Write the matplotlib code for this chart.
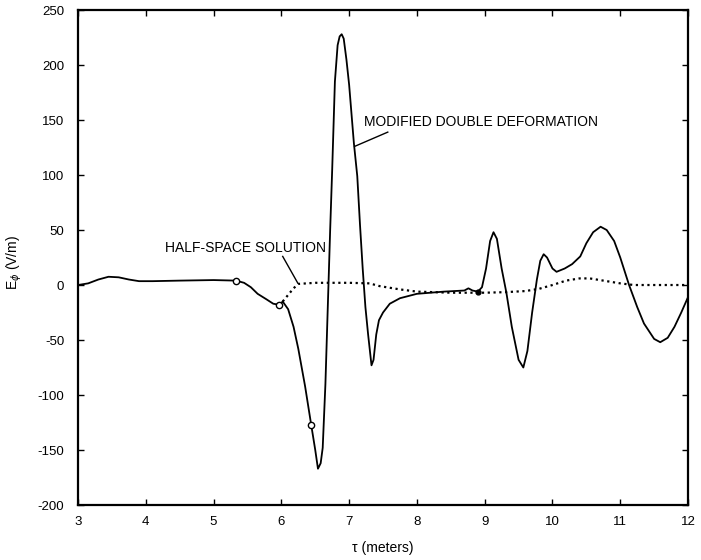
import matplotlib
matplotlib.use("Agg")
import matplotlib.pyplot as plt
import matplotlib.ticker as ticker

plt.rcParams['font.family'] = ['Liberation Sans', 'DejaVu Sans']
plt.rcParams['axes.unicode_minus'] = False

# modified double deformation result (tau in meters, E_phi in V/m)
tau_mdd = [3.0, 3.15, 3.3, 3.45, 3.6, 3.75, 3.9, 4.1, 4.5, 5.0, 5.33, 5.45, 5.55,
           5.65, 5.78, 5.88, 5.97, 6.02, 6.1, 6.18, 6.25, 6.35, 6.44, 6.5, 6.54,
           6.58, 6.61, 6.65, 6.69, 6.72, 6.75, 6.79, 6.83, 6.86, 6.89, 6.92, 6.96,
           7.0, 7.07, 7.12, 7.16, 7.2, 7.24, 7.28, 7.33, 7.36, 7.4, 7.44, 7.5,
           7.6, 7.75, 8.0, 8.4, 8.7, 8.76, 8.82, 8.9, 8.96, 9.02, 9.08, 9.13,
           9.18, 9.25, 9.32, 9.4, 9.5, 9.57, 9.63, 9.7, 9.77, 9.82, 9.87, 9.92,
           10.0, 10.06, 10.18, 10.29, 10.41, 10.5, 10.6, 10.71, 10.8, 10.91, 11.0,
           11.13, 11.25, 11.35, 11.5, 11.59, 11.7, 11.8, 11.9, 12.0]
e_mdd = [0, 1.5, 5, 7.5, 7, 5, 3.5, 3.5, 4, 4.5, 4, 2, -2,
         -8, -13, -17, -18, -15, -22, -38, -58, -92, -127, -150, -167,
         -162, -148, -90, -10, 50, 105, 185, 218, 226, 228, 224, 205,
         182, 129, 99, 55, 15, -20, -45, -73, -68, -45, -32, -25,
         -17, -12, -8, -6, -5, -3, -5, -6, -2, 15, 40, 48,
         42, 15, -7, -38, -68, -75, -60, -25, 5, 22, 28, 25,
         15, 12, 15, 19, 26, 38, 48, 53, 50, 40, 25,
         0, -20, -35, -49, -52, -48, -38, -25, -11]

# half-space solution, branching off near tau = 6
tau_hs = [6.02, 6.1, 6.18, 6.25, 6.5, 7.0, 7.3, 7.45, 7.6, 7.75, 8.0, 8.5, 9.0,
          9.3, 9.6, 9.8, 10.0, 10.2, 10.4, 10.55, 10.75, 11.0, 11.2, 11.5, 12.0]
e_hs = [-15, -9, -3, 1, 2, 2, 1.5, -1, -2.5, -4, -6, -7, -7,
        -6.5, -5.5, -3.5, 0, 4, 6, 6, 4, 1.5, 0, 0, 0]

# sample markers along the curve
open_tau = [5.33, 5.97, 6.44]
open_e = [4, -18, -127]
dot_tau = [8.9]
dot_e = [-6]

xticks = [3, 4, 5, 6, 7, 8, 9, 10, 11, 12]
yticks = [-200, -150, -100, -50, 0, 50, 100, 150, 200, 250]

fig = plt.figure(figsize=(7.01, 5.6), dpi=100)
ax = fig.add_axes([0.1113, 0.0982, 0.8702, 0.8839])

ax.plot(tau_hs, e_hs, color='black', lw=1.6, ls=(0, (1, 1.6)))
ax.plot(tau_mdd, e_mdd, color='black', lw=1.3)
ax.plot(open_tau, open_e, ls='none', marker='o', ms=4.5, mfc='white', mec='black', mew=1.0)
ax.plot(dot_tau, dot_e, ls='none', marker='o', ms=3.5, color='black')

ax.set_xlim(3, 12)
ax.set_ylim(-200, 250)
ax.xaxis.set_major_locator(ticker.FixedLocator(xticks))
ax.yaxis.set_major_locator(ticker.FixedLocator(yticks))

for s in ax.spines.values():
    s.set_linewidth(1.6)
ax.tick_params(axis='both', direction='in', length=4, width=1.0,
               top=True, right=True, labelsize=9.5)
ax.tick_params(axis='x', pad=8)
ax.tick_params(axis='y', pad=10)

ax.set_xlabel('τ (meters)', fontsize=10)
ax.set_ylabel(r'E$_\phi$ (V/m)', fontsize=10)
ax.xaxis.set_label_coords(0.5, -0.072)
ax.yaxis.set_label_coords(-0.088, 0.49)

# curve labels with leader lines
ax.text(4.28, 33.5, 'HALF-SPACE SOLUTION', fontsize=10, va='center', ha='left')
ax.plot([6.02, 6.24], [26, 2], color='black', lw=1.0)
ax.text(7.22, 148, 'MODIFIED DOUBLE DEFORMATION', fontsize=10, va='center', ha='left')
ax.plot([7.08, 7.57], [126, 139], color='black', lw=1.0)

fig.savefig('out.png', dpi=100)
